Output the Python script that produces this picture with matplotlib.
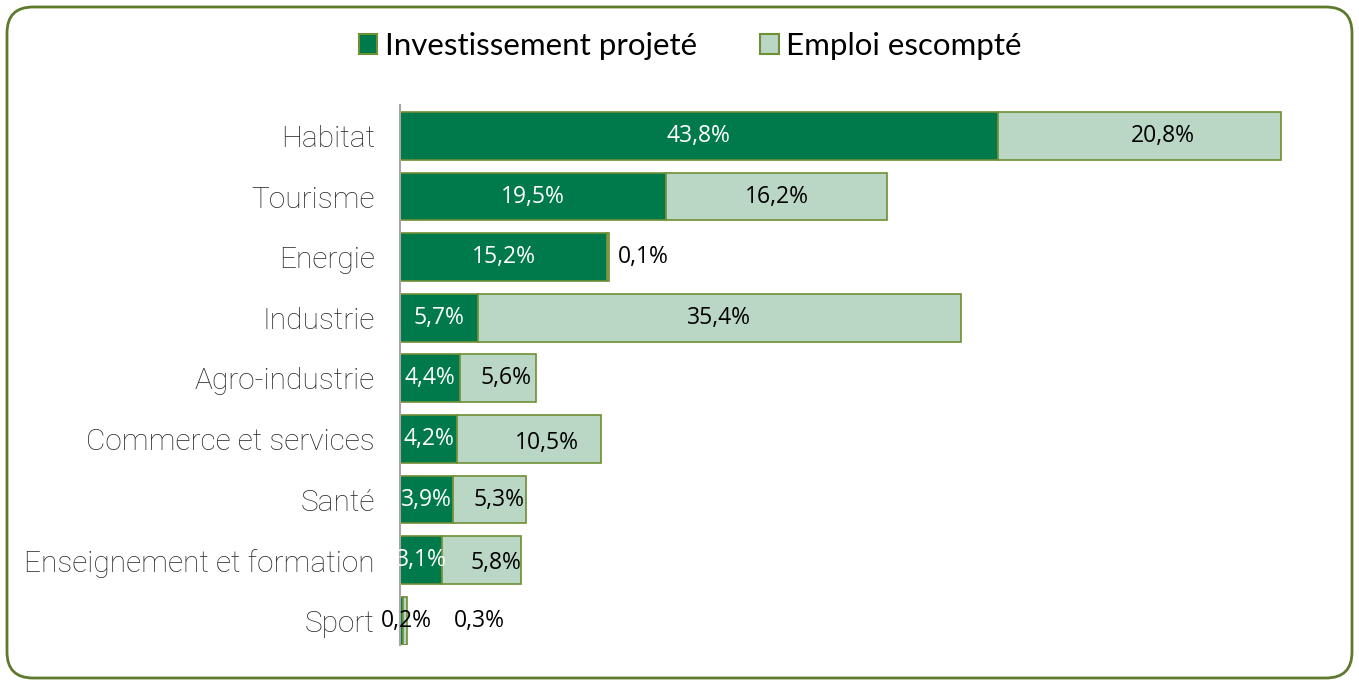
import matplotlib
matplotlib.use('Agg')
import matplotlib.pyplot as plt
from matplotlib.patches import FancyBboxPatch, Patch

categories = ['Habitat', 'Tourisme', 'Energie', 'Industrie', 'Agro-industrie',
              'Commerce et services', 'Santé', 'Enseignement et formation', 'Sport']
investissement = [43.8, 19.5, 15.2, 5.7, 4.4, 4.2, 3.9, 3.1, 0.2]
emploi = [20.8, 16.2, 0.1, 35.4, 5.6, 10.5, 5.3, 5.8, 0.3]

dark = '#007A4B'
light = '#B9D7C4'
edge = '#6E8F35'

# label offsets (x shift in %, y shift in rows), Excel placed them a bit oddly
inv_dx = [0, 0, 0, 0, 0, 0, 0, 0, 0.4]
emp_dx = [1.7, 0, 2.6, 0, 0.6, 1.3, 0.7, 1.0, 5.5]
emp_dy = [0, 0, 0, 0, 0, 0.07, 0, 0.05, 0]

fig = plt.figure(figsize=(13.59, 6.8), dpi=100)

# frame with rounded corners, drawn in pixel units
bg = fig.add_axes([0, 0, 1, 1])
bg.set_xlim(0, 1359)
bg.set_ylim(680, 0)
bg.axis('off')
bg.add_patch(FancyBboxPatch((7, 7), 1345, 671, boxstyle='round,pad=0,rounding_size=26',
                            facecolor='none', edgecolor='#5E7A2C', linewidth=2))

ax = fig.add_axes([400/1359, 35/680, 955/1359, 540/680])
ax.patch.set_visible(False)

y = list(range(len(categories)))
ax.barh(y, investissement, height=0.79, color=dark, edgecolor=edge, linewidth=1.2)
ax.barh(y, emploi, left=investissement, height=0.79, color=light, edgecolor=edge, linewidth=1.2)

lab_font = ['Open Sans', 'DejaVu Sans']
for i in y:
    v1, v2 = investissement[i], emploi[i]
    col1 = 'white' if v1 > 1 else 'black'
    ax.text(v1/2 + inv_dx[i], i, f'{v1:.1f}%'.replace('.', ','), ha='center', va='center',
            color=col1, fontsize=16.5, family=lab_font)
    ax.text(v1 + v2/2 + emp_dx[i], i + emp_dy[i], f'{v2:.1f}%'.replace('.', ','), ha='center',
            va='center', color='black', fontsize=16.5, family=lab_font)

ax.set_xlim(0, 70)
ax.set_ylim(8.4, -0.51)
ax.set_yticks(y)
ax.set_yticklabels(categories, fontsize=21.5, family=['Roboto', 'DejaVu Sans'], fontweight='light',
                   color='#2a2a2a')
ax.tick_params(axis='y', length=0, pad=18)
ax.set_xticks([])
for s in ['top', 'right', 'bottom']:
    ax.spines[s].set_visible(False)
ax.spines['left'].set_color('#A6A6A6')
ax.spines['left'].set_linewidth(1.5)

handles = [Patch(facecolor=dark, edgecolor=edge, linewidth=1.5, label='Investissement projeté'),
           Patch(facecolor=light, edgecolor=edge, linewidth=1.5, label='Emploi escompté')]
fig.legend(handles=handles, loc='center', bbox_to_anchor=(0.508, 1 - 46/680), ncol=2,
           frameon=False, prop={'family': ['Lato', 'DejaVu Sans'], 'size': 22.5},
           handlelength=0.6, handleheight=0.6, handletextpad=0.25, columnspacing=2.0)

fig.savefig('out.png', dpi=100)
